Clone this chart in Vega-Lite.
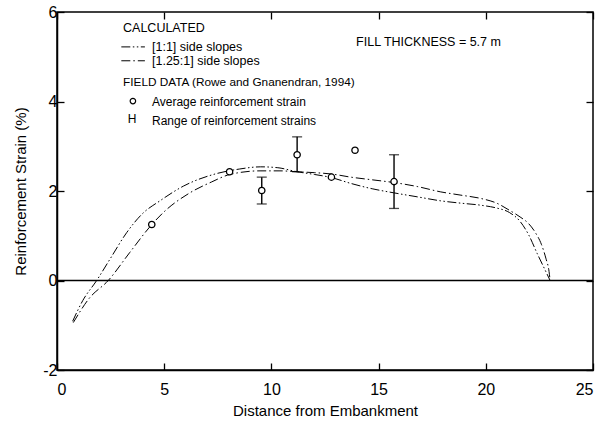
{
  "$schema": "https://vega.github.io/schema/vega-lite/v6.json",
  "width": 536,
  "height": 358,
  "autosize": {"type": "none"},
  "padding": {"left": 57, "top": 12, "right": 8, "bottom": 55},
  "background": "white",
  "config": {
    "view": {"stroke": "black", "strokeWidth": 1.5},
    "font": "Liberation Sans",
    "axis": {
      "grid": false,
      "domainColor": "black",
      "domainWidth": 1.5,
      "tickColor": "black",
      "tickSize": -7,
      "tickWidth": 1.3,
      "labelColor": "black",
      "labelFont": "Liberation Sans",
      "labelFontSize": 16,
      "titleFont": "Liberation Sans",
      "titleFontSize": 15,
      "titleFontWeight": "normal",
      "titleColor": "black"
    }
  },
  "datasets": {
    "curves": [
      {"s": "1:1", "x": 0.73, "y": -0.91},
      {"s": "1:1", "x": 1.2, "y": -0.45},
      {"s": "1:1", "x": 1.85, "y": 0},
      {"s": "1:1", "x": 2.5, "y": 0.5},
      {"s": "1:1", "x": 3.25, "y": 1.07},
      {"s": "1:1", "x": 4.0, "y": 1.5},
      {"s": "1:1", "x": 4.8, "y": 1.78},
      {"s": "1:1", "x": 5.9, "y": 2.11},
      {"s": "1:1", "x": 7.45, "y": 2.39},
      {"s": "1:1", "x": 8.5, "y": 2.49},
      {"s": "1:1", "x": 9.5, "y": 2.54},
      {"s": "1:1", "x": 10.3, "y": 2.52},
      {"s": "1:1", "x": 11.2, "y": 2.43},
      {"s": "1:1", "x": 12.0, "y": 2.37},
      {"s": "1:1", "x": 12.8, "y": 2.3},
      {"s": "1:1", "x": 13.7, "y": 2.17},
      {"s": "1:1", "x": 14.7, "y": 2.05},
      {"s": "1:1", "x": 15.7, "y": 1.96},
      {"s": "1:1", "x": 16.8, "y": 1.87},
      {"s": "1:1", "x": 17.9, "y": 1.78},
      {"s": "1:1", "x": 18.8, "y": 1.73},
      {"s": "1:1", "x": 19.8, "y": 1.68},
      {"s": "1:1", "x": 20.5, "y": 1.62},
      {"s": "1:1", "x": 21.1, "y": 1.52},
      {"s": "1:1", "x": 21.6, "y": 1.32},
      {"s": "1:1", "x": 22.0, "y": 1.02},
      {"s": "1:1", "x": 22.4, "y": 0.6},
      {"s": "1:1", "x": 22.75, "y": 0.25},
      {"s": "1:1", "x": 23.0, "y": 0},
      {"s": "1.25:1", "x": 0.76, "y": -0.94},
      {"s": "1.25:1", "x": 1.5, "y": -0.4},
      {"s": "1.25:1", "x": 2.39, "y": 0},
      {"s": "1.25:1", "x": 3.4, "y": 0.63},
      {"s": "1.25:1", "x": 4.42, "y": 1.25},
      {"s": "1.25:1", "x": 4.96, "y": 1.52},
      {"s": "1.25:1", "x": 6.2, "y": 1.96},
      {"s": "1.25:1", "x": 7.2, "y": 2.2},
      {"s": "1.25:1", "x": 8.07, "y": 2.37},
      {"s": "1.25:1", "x": 9.47, "y": 2.45},
      {"s": "1.25:1", "x": 10.4, "y": 2.45},
      {"s": "1.25:1", "x": 11.2, "y": 2.43},
      {"s": "1.25:1", "x": 12.0, "y": 2.41},
      {"s": "1.25:1", "x": 12.8, "y": 2.38},
      {"s": "1.25:1", "x": 13.7, "y": 2.31},
      {"s": "1.25:1", "x": 14.7, "y": 2.25},
      {"s": "1.25:1", "x": 15.7, "y": 2.19},
      {"s": "1.25:1", "x": 16.8, "y": 2.1},
      {"s": "1.25:1", "x": 17.9, "y": 1.98},
      {"s": "1.25:1", "x": 18.8, "y": 1.91},
      {"s": "1.25:1", "x": 19.8, "y": 1.83},
      {"s": "1.25:1", "x": 20.5, "y": 1.73},
      {"s": "1.25:1", "x": 21.1, "y": 1.57},
      {"s": "1.25:1", "x": 21.6, "y": 1.42},
      {"s": "1.25:1", "x": 22.0, "y": 1.27},
      {"s": "1.25:1", "x": 22.3, "y": 1.08},
      {"s": "1.25:1", "x": 22.6, "y": 0.8},
      {"s": "1.25:1", "x": 22.8, "y": 0.5},
      {"s": "1.25:1", "x": 22.95, "y": 0.2},
      {"s": "1.25:1", "x": 23.0, "y": 0},
      {"s": "leg1", "x": 3.0, "y": 5.22},
      {"s": "leg1", "x": 4.1, "y": 5.22},
      {"s": "leg2", "x": 3.0, "y": 4.91},
      {"s": "leg2", "x": 4.1, "y": 4.91}
    ],
    "points": [
      {"x": 4.42, "y": 1.25},
      {"x": 8.05, "y": 2.43},
      {"x": 9.55, "y": 2.01},
      {"x": 11.2, "y": 2.81},
      {"x": 12.8, "y": 2.31},
      {"x": 13.9, "y": 2.91},
      {"x": 15.72, "y": 2.21}
    ],
    "ranges": [
      {"x": 9.55, "lo": 1.71, "hi": 2.31},
      {"x": 11.2, "lo": 2.43, "hi": 3.21},
      {"x": 15.72, "lo": 1.61, "hi": 2.81}
    ],
    "headers": [
      {"x": 3.08, "y": 5.65, "label": "CALCULATED"},
      {"x": 4.43, "y": 5.22, "label": "[1:1] side slopes"},
      {"x": 4.43, "y": 4.91, "label": "[1.25:1] side slopes"},
      {"x": 13.95, "y": 5.33, "label": "FILL THICKNESS = 5.7 m"}
    ],
    "fieldhead": [
      {"x": 3.08, "y": 4.43, "label": "FIELD DATA (Rowe and Gnanendran, 1994)"}
    ],
    "labels": [
      {"x": 4.43, "y": 4.0, "label": "Average reinforcement strain"},
      {"x": 4.43, "y": 3.56, "label": "Range of reinforcement strains"},
      {"x": 3.3, "y": 3.6, "label": "H"}
    ],
    "legpt": [
      {"x": 3.54, "y": 4.01}
    ]
  },
  "layer": [
    {
      "layer": [
        {
          "data": {"name": "curves"},
          "mark": {"type": "line", "interpolate": "monotone", "color": "black", "strokeWidth": 1},
          "encoding": {
            "x": {"field": "x", "type": "quantitative", "scale": {"domain": [0, 25], "nice": false}, "axis": {"values": [0, 5, 10, 15, 20, 25], "title": "Distance from Embankment", "labelPadding": 18, "titlePadding": 6}},
            "y": {"field": "y", "type": "quantitative", "scale": {"domain": [-2, 6], "nice": false}, "axis": {"values": [-2, 0, 2, 4, 6], "title": "Reinforcement Strain (%)", "labelPadding": 7, "labelExpr": "'' + datum.value", "titlePadding": 14}},
            "detail": {"field": "s"},
            "strokeDash": {"field": "s", "type": "nominal", "legend": null, "scale": {"domain": ["1:1", "1.25:1", "leg1", "leg2"], "range": [[9, 2.5, 1.5, 2.5, 1.5, 2.5], [9, 3, 1.5, 3], [9, 2.5, 1.5, 2.5, 1.5, 2.5], [9, 3, 1.5, 3]]}}
          }
        },
        {
          "data": {"name": "ranges"},
          "mark": {"type": "errorbar", "ticks": {"size": 10, "thickness": 1.3, "color": "black"}, "rule": {"strokeWidth": 1.4, "color": "black"}},
          "encoding": {
            "x": {"field": "x", "type": "quantitative", "scale": {"domain": [0, 25], "nice": false}, "axis": {"values": [0, 5, 10, 15, 20, 25], "title": "Distance from Embankment", "labelPadding": 18, "titlePadding": 6}},
            "y": {"field": "lo", "type": "quantitative", "scale": {"domain": [-2, 6], "nice": false}, "axis": {"values": [-2, 0, 2, 4, 6], "title": "Reinforcement Strain (%)", "labelPadding": 7, "labelExpr": "'' + datum.value", "titlePadding": 14}},
            "y2": {"field": "hi"}
          }
        },
        {
          "data": {"name": "points"},
          "mark": {"type": "point", "shape": "circle", "filled": false, "fill": "white", "fillOpacity": 1, "stroke": "black", "strokeWidth": 1.3, "size": 40, "opacity": 1},
          "encoding": {
            "x": {"field": "x", "type": "quantitative", "scale": {"domain": [0, 25], "nice": false}, "axis": {"values": [0, 5, 10, 15, 20, 25], "title": "Distance from Embankment", "labelPadding": 18, "titlePadding": 6}},
            "y": {"field": "y", "type": "quantitative", "scale": {"domain": [-2, 6], "nice": false}, "axis": {"values": [-2, 0, 2, 4, 6], "title": "Reinforcement Strain (%)", "labelPadding": 7, "labelExpr": "'' + datum.value", "titlePadding": 14}}
          }
        },
        {
          "data": {"name": "legpt"},
          "mark": {"type": "point", "shape": "circle", "filled": false, "fill": "white", "fillOpacity": 1, "stroke": "black", "strokeWidth": 1.2, "size": 30, "opacity": 1},
          "encoding": {
            "x": {"field": "x", "type": "quantitative", "scale": {"domain": [0, 25], "nice": false}, "axis": {"values": [0, 5, 10, 15, 20, 25], "title": "Distance from Embankment", "labelPadding": 18, "titlePadding": 6}},
            "y": {"field": "y", "type": "quantitative", "scale": {"domain": [-2, 6], "nice": false}, "axis": {"values": [-2, 0, 2, 4, 6], "title": "Reinforcement Strain (%)", "labelPadding": 7, "labelExpr": "'' + datum.value", "titlePadding": 14}}
          }
        },
        {
          "data": {"name": "headers"},
          "mark": {"type": "text", "align": "left", "baseline": "middle", "fontSize": 12.5, "font": "Liberation Sans", "color": "black"},
          "encoding": {
            "x": {"field": "x", "type": "quantitative", "scale": {"domain": [0, 25], "nice": false}, "axis": {"values": [0, 5, 10, 15, 20, 25], "title": "Distance from Embankment", "labelPadding": 18, "titlePadding": 6}},
            "y": {"field": "y", "type": "quantitative", "scale": {"domain": [-2, 6], "nice": false}, "axis": {"values": [-2, 0, 2, 4, 6], "title": "Reinforcement Strain (%)", "labelPadding": 7, "labelExpr": "'' + datum.value", "titlePadding": 14}},
            "text": {"field": "label"}
          }
        },
        {
          "data": {"name": "fieldhead"},
          "mark": {"type": "text", "align": "left", "baseline": "middle", "fontSize": 11.8, "font": "Liberation Sans", "color": "black"},
          "encoding": {
            "x": {"field": "x", "type": "quantitative", "scale": {"domain": [0, 25], "nice": false}, "axis": {"values": [0, 5, 10, 15, 20, 25], "title": "Distance from Embankment", "labelPadding": 18, "titlePadding": 6}},
            "y": {"field": "y", "type": "quantitative", "scale": {"domain": [-2, 6], "nice": false}, "axis": {"values": [-2, 0, 2, 4, 6], "title": "Reinforcement Strain (%)", "labelPadding": 7, "labelExpr": "'' + datum.value", "titlePadding": 14}},
            "text": {"field": "label"}
          }
        },
        {
          "data": {"name": "labels"},
          "mark": {"type": "text", "align": "left", "baseline": "middle", "fontSize": 12, "font": "Liberation Sans", "color": "black"},
          "encoding": {
            "x": {"field": "x", "type": "quantitative", "scale": {"domain": [0, 25], "nice": false}, "axis": {"values": [0, 5, 10, 15, 20, 25], "title": "Distance from Embankment", "labelPadding": 18, "titlePadding": 6}},
            "y": {"field": "y", "type": "quantitative", "scale": {"domain": [-2, 6], "nice": false}, "axis": {"values": [-2, 0, 2, 4, 6], "title": "Reinforcement Strain (%)", "labelPadding": 7, "labelExpr": "'' + datum.value", "titlePadding": 14}},
            "text": {"field": "label"}
          }
        }
      ]
    },
    {
      "data": {"values": [{"y": 0}]},
      "mark": {"type": "rule", "color": "black", "strokeWidth": 1.6},
      "encoding": {
        "x": {"datum": 0, "type": "quantitative", "scale": {"domain": [0, 25], "nice": false}, "axis": {"orient": "top", "values": [0, 5, 10, 15, 20, 25], "labels": false, "title": null, "domain": false}},
        "x2": {"datum": 25},
        "y": {"field": "y", "type": "quantitative", "scale": {"domain": [-2, 6], "nice": false}, "axis": {"orient": "right", "values": [-2, 0, 2, 4, 6], "labels": false, "title": null, "domain": false}}
      }
    }
  ],
  "resolve": {"scale": {"x": "independent", "y": "independent"}}
}
